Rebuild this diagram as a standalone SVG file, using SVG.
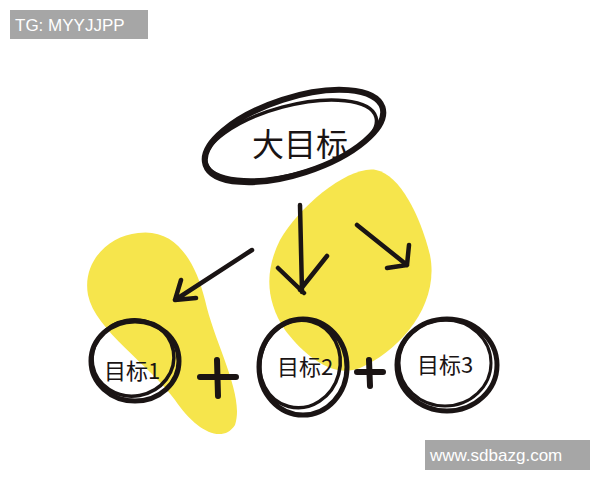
<svg xmlns="http://www.w3.org/2000/svg" width="600" height="480" viewBox="0 0 600 480">
<style>
.ink{fill:none;stroke:#1a1414;stroke-linecap:round;stroke-linejoin:round}
.lbl{font-family:"Noto Sans CJK SC","Noto Sans",sans-serif;fill:#1a1414}
.wm{font-family:"Liberation Sans",Arial,sans-serif;fill:#ffffff;font-size:17px}
.blob{fill:#f6e54c}
</style>
<rect width="600" height="480" fill="#ffffff"/>
<path class="blob" d="M138,233 C175,228 195,260 205,300 C215,345 245,395 235,425 C222,445 195,430 175,400 C150,365 95,330 88,295 C82,262 108,236 138,233 Z"/>
<path class="blob" d="M376,170 C400,175 420,215 430,255 C440,305 400,350 360,368 C330,380 300,350 285,330 C265,300 265,270 280,240 C300,205 350,165 376,170 Z"/>
<g id="goal-main">
<ellipse class="ink" cx="294" cy="136" rx="93" ry="38" transform="rotate(-18 294 136)" stroke-width="6"/>
<ellipse class="ink" cx="291" cy="140" rx="88" ry="34" transform="rotate(-15 291 140)" stroke-width="3.5"/>
<text class="lbl" x="300" y="156" font-size="32" text-anchor="middle">大目标</text>
</g>
<g id="goal-1">
<ellipse class="ink" cx="135" cy="361" rx="44" ry="40" stroke-width="5"/>
<ellipse class="ink" cx="133" cy="358" rx="41" ry="38" transform="rotate(-10 133 358)" stroke-width="3.5"/>
<text class="lbl" x="132" y="379" font-size="22" text-anchor="middle">目标1</text>
</g>
<g id="goal-2">
<ellipse class="ink" cx="303" cy="367" rx="44" ry="48" stroke-width="5"/>
<ellipse class="ink" cx="300" cy="364" rx="40" ry="44" transform="rotate(15 300 364)" stroke-width="3.5"/>
<text class="lbl" x="305" y="375" font-size="22" text-anchor="middle">目标2</text>
</g>
<g id="goal-3">
<ellipse class="ink" cx="447" cy="365" rx="50" ry="46" stroke-width="5"/>
<ellipse class="ink" cx="445" cy="363" rx="46" ry="43" stroke-width="3"/>
<text class="lbl" x="445" y="373" font-size="22" text-anchor="middle">目标3</text>
</g>
<g id="plus">
<path class="ink" stroke-width="6" d="M200,377 L236,377 M217,360 L218,396"/>
<path class="ink" stroke-width="6" d="M357,372 L383,372 M369,360 L370,386"/>
</g>
<g id="connectors">
<path class="ink" stroke-width="4.5" d="M252,250 L175,300 M175,300 L181,280 M175,300 L196,298"/>
<path class="ink" stroke-width="4.5" d="M300,205 L302,292 M278,268 L304,293 M327,256 L300,290"/>
<path class="ink" stroke-width="4.5" d="M357,225 L407,265 M407,265 L409,245 M407,265 L387,268"/>
</g>
<rect x="10" y="10" width="138" height="29" fill="#a6a6a6"/>
<text class="wm" x="15" y="31">TG: MYYJJPP</text>
<rect x="425" y="440" width="165" height="30" fill="#a6a6a6"/>
<text class="wm" x="430" y="461">www.sdbazg.com</text>
</svg>
